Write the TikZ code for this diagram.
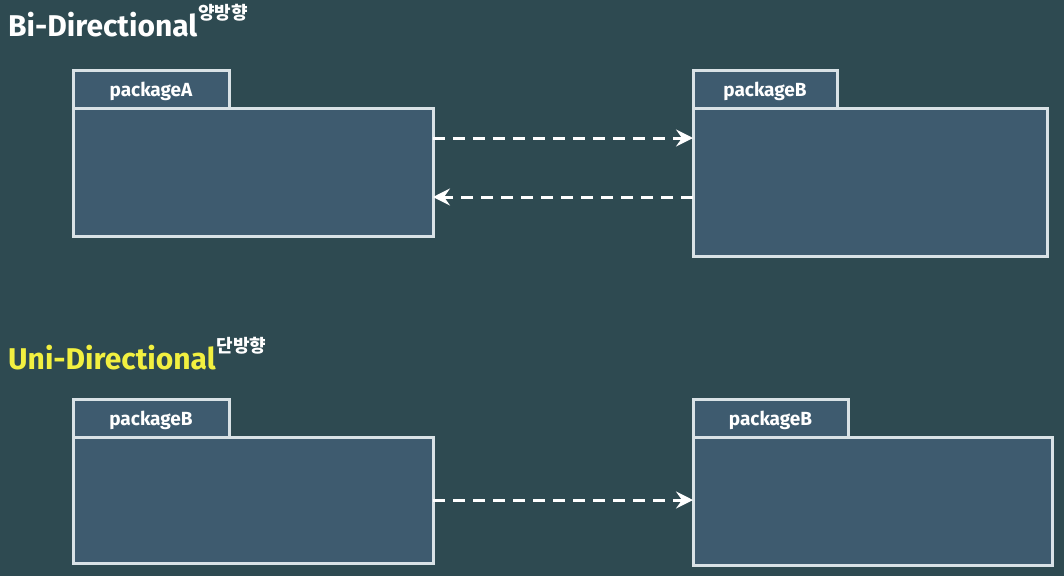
\documentclass[tikz,border=0pt]{standalone}
\usepackage{fontspec}
\setmainfont{Fira Sans}
\newfontfamily\kr{Noto Sans CJK KR}
\usetikzlibrary{arrows.meta,positioning}
\definecolor{board}{HTML}{2E4A51}
\definecolor{pkgfill}{HTML}{3E5B6F}
\definecolor{pkgline}{HTML}{D9E2E6}
\definecolor{uniyellow}{HTML}{F2F040}
\tikzset{
  pkgbody/.style={draw=pkgline,fill=pkgfill,line width=3pt,inner sep=0pt,outer sep=0pt,
    minimum width=360pt,minimum height=128pt,anchor=north west},
  pkgtab/.style={draw=pkgline,fill=pkgfill,line width=3pt,inner sep=0pt,outer sep=0pt,
    minimum height=38pt,anchor=south west,text=white,text depth=-3pt,
    font=\fontsize{19}{19}\selectfont\bfseries},
  dep/.style={draw=white,line width=3pt,dash pattern=on 12pt off 8pt,
    -{Stealth[length=17pt,width=17pt,inset=6pt]}},
  heading/.style={anchor=base west,inner sep=0pt,font=\fontsize{30}{30}\selectfont\bfseries}
}
\newcommand{\hangul}[1]{\kern1pt\raisebox{0.55em}{\fontsize{18}{18}\selectfont\kr\bfseries #1}}
\begin{document}
\begin{tikzpicture}[x=1pt,y=-1pt]
	    \useasboundingbox (0,0) rectangle (1064,576);
	    \fill[board] (0,0) rectangle (1064,576);
	    
	    % bi-directional
	    \node[heading,text=white] (bi) at (8,36) {Bi-Directional\hangul{양방향}};
	    \node[pkgbody] (bodyA) at (73,108) {};
	    \node[pkgtab,minimum width=156pt] (tabA) at (bodyA.north west) {packageA};
	    \node[pkgbody,minimum width=354pt,minimum height=148pt] (bodyB) at (693,108) {};
	    \node[pkgtab,minimum width=144pt] (tabB) at (bodyB.north west) {packageB};
	    \draw[dep] ([yshift=34pt]bodyA.east) -- ([yshift=34pt]bodyA.east -| bodyB.west);
	    \draw[dep] ([yshift=-25pt]bodyA.east -| bodyB.west) -- ([yshift=-25pt]bodyA.east);
	    
	    % uni-directional
	    \node[heading,text=uniyellow] (uni) at (8,369) {Uni-Directional\hangul{\textcolor{white}{단방향}}};
	    \node[pkgbody,minimum height=126pt] (bodyC) at (73,437) {};
	    \node[pkgtab,minimum width=156pt] (tabC) at (bodyC.north west) {packageB};
	    \node[pkgbody,minimum width=359pt] (bodyD) at (693,437) {};
	    \node[pkgtab,minimum width=155pt] (tabD) at (bodyD.north west) {packageB};
	    \draw[dep] (bodyC.east) -- (bodyC.east -| bodyD.west);
	\end{tikzpicture}
\end{document}
